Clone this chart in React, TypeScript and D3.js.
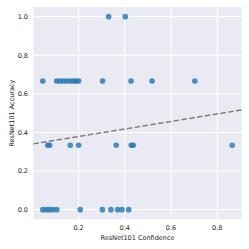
import React from "react";
import * as d3 from "d3";

const conf0: number[] = [0.045, 0.06, 0.073, 0.088, 0.106, 0.207, 0.303, 0.34, 0.369, 0.388, 0.417];
const conf33: number[] = [0.066, 0.075, 0.164, 0.2, 0.363, 0.428, 0.437, 0.865];
const conf67: number[] = [0.045, 0.105, 0.12, 0.135, 0.15, 0.165, 0.178, 0.19, 0.2, 0.304, 0.427, 0.518, 0.703];
const conf100: number[] = [0.33, 0.402];
const accLevels: number[] = [0, 1 / 3, 2 / 3, 1];
const regIntercept = 0.34;
const regSlope = 0.195;
const xTicks: number[] = [0.2, 0.4, 0.6, 0.8];
const yTicks: number[] = [0, 0.2, 0.4, 0.6, 0.8, 1.0];

export default function App() {
  const W = 249, H = 249;
  const left = 33.3, right = 241.7, top = 7, bottom = 219.3;
  const all = [conf0, conf33, conf67, conf100];
  const points: { x: number; y: number }[] = [];
  all.forEach((arr, i) => arr.forEach((c) => points.push({ x: c, y: accLevels[i] })));
  const xmin = d3.min(points, (p) => p.x)!;
  const xmax = d3.max(points, (p) => p.x)!;
  const xpad = (xmax - xmin) * 0.05;
  const x = d3.scaleLinear().domain([xmin - xpad, xmax + xpad]).range([left, right]);
  const y = d3.scaleLinear().domain([-0.05, 1.05]).range([bottom, top]);
  const [x0, x1] = x.domain();
  const font = "DejaVu Sans, sans-serif";
  return (
    <svg width={W} height={H} style={{ position: "absolute", left: 0, top: 0 }}>
      <rect x={0} y={0} width={W} height={H} fill="#ffffff" />
      <rect x={left} y={top} width={right - left} height={bottom - top} fill="#EAEAF2" />
      {xTicks.map((t) => (
        <line key={"gx" + t} x1={x(t)} x2={x(t)} y1={top} y2={bottom} stroke="#ffffff" strokeWidth={1} />
      ))}
      {yTicks.map((t) => (
        <line key={"gy" + t} x1={left} x2={right} y1={y(t)} y2={y(t)} stroke="#ffffff" strokeWidth={1} />
      ))}
      {points.map((p, i) => (
        <circle key={i} cx={x(p.x)} cy={y(p.y)} r={2.8} fill="#1f77b4" fillOpacity={0.8} />
      ))}
      <line
        x1={x(x0)}
        y1={y(regIntercept + regSlope * x0)}
        x2={x(x1)}
        y2={y(regIntercept + regSlope * x1)}
        stroke="#808080"
        strokeWidth={1.5}
        strokeDasharray="5.5,2.4"
      />
      {xTicks.map((t) => (
        <text key={"tx" + t} x={x(t)} y={230} textAnchor="middle" fontFamily={font} fontSize={6.5} fill="#262626">
          {d3.format(".1f")(t)}
        </text>
      ))}
      {yTicks.map((t) => (
        <text key={"ty" + t} x={28} y={y(t)} dy="0.35em" textAnchor="end" fontFamily={font} fontSize={6.5} fill="#262626">
          {d3.format(".1f")(t)}
        </text>
      ))}
      <text x={(left + right) / 2} y={240} textAnchor="middle" fontFamily={font} fontSize={6.5} fill="#262626">
        ResNet101 Confidence
      </text>
      <text
        transform={`translate(14,${(top + bottom) / 2}) rotate(-90)`}
        textAnchor="middle"
        fontFamily={font}
        fontSize={6.5}
        fill="#262626"
      >
        ResNet101 Accuracy
      </text>
    </svg>
  );
}
